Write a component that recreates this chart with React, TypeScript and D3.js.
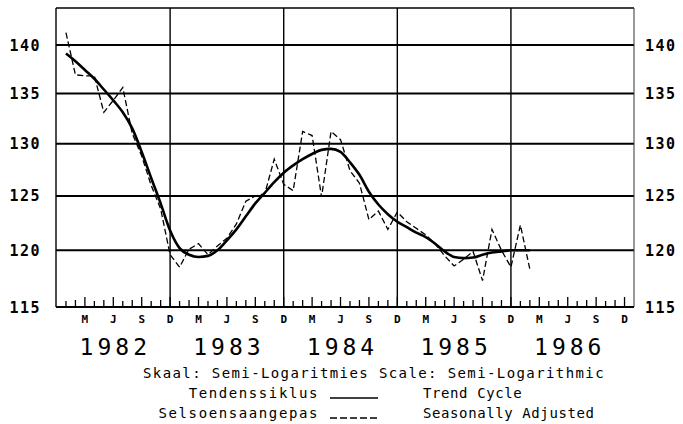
import React, { Component } from 'react'
import * as d3 from 'd3'

// months counted from Dec 1981 (= 0); both series start Jan 1982
const startMonth = 1

const trendCycle = [
    139.1, 138.3, 137.4, 136.5, 135.4, 134.3, 133.1, 131.5, 129.2, 126.7, 124.3, 121.8,
    120.2, 119.6, 119.4, 119.5, 120.0, 120.9, 121.9, 123.1, 124.3, 125.3, 126.3, 127.2,
    127.9, 128.5, 129.0, 129.4, 129.5, 129.2, 128.2, 127.0, 125.4, 124.2, 123.3, 122.6,
    122.1, 121.6, 121.2, 120.6, 119.9, 119.4, 119.3, 119.35, 119.6, 119.8, 119.9, 120.0,
    120.0, 120.0
]

const seasonallyAdjusted = [
    141.3, 136.9, 136.8, 136.8, 133.1, 134.3, 135.6, 131.0, 128.8, 126.0, 123.8, 119.6,
    118.5, 120.1, 120.6, 119.6, 120.4, 121.1, 122.4, 124.5, 125.0, 125.2, 128.5, 126.1,
    125.5, 131.2, 130.8, 124.9, 131.2, 130.4, 127.4, 126.2, 122.8, 123.6, 121.9, 123.5,
    122.6, 122.0, 121.4, 120.6, 119.5, 118.6, 119.2, 119.9, 117.3, 121.9, 120.0, 118.5,
    122.3, 118.3
]

const yTicks = [115, 120, 125, 130, 135, 140]
const monthLetters = ['D', 'M', 'J', 'S']
const years = ['1982', '1983', '1984', '1985', '1986']

const legendLeft = ['Tendenssiklus', 'Selsoensaangepas']
const legendRight = ['Trend Cycle', 'Seasonally Adjusted']
const scaleNote = 'Skaal: Semi-Logaritmies Scale: Semi-Logarithmic'

const FONT = '"DejaVu Sans Mono", "Liberation Mono", monospace'

class App extends Component {
    constructor(props) {
        super(props)
        this.draw = this.draw.bind(this)
    }
    componentDidMount() {
        this.draw()
    }
    draw() {
        let vis = d3.select(this.node)
        vis.selectAll('*').remove()

        let LEFT = 56, RIGHT = 634, TOP = 8, BOTTOM = 307,
            x = d3.scaleLinear().domain([0, 61]).range([56.5, 634]),
            y = d3.scaleLog().domain([115, 140]).range([BOTTOM, 45])

        // horizontal grid
        vis.append('g').selectAll('line')
            .data(yTicks.slice(1))
            .enter().append('line')
            .attr('x1', LEFT).attr('x2', RIGHT)
            .attr('y1', d => y(d)).attr('y2', d => y(d))
            .attr('stroke', '#000').attr('stroke-width', 2)

        // vertical grid at each December
        vis.append('g').selectAll('line')
            .data([12, 24, 36, 48])
            .enter().append('line')
            .attr('x1', d => x(d)).attr('x2', d => x(d))
            .attr('y1', TOP).attr('y2', BOTTOM)
            .attr('stroke', '#000').attr('stroke-width', 1.4)

        // frame
        vis.append('line').attr('x1', LEFT).attr('x2', RIGHT).attr('y1', TOP).attr('y2', TOP)
            .attr('stroke', '#000').attr('stroke-width', 1.6)
        vis.append('line').attr('x1', LEFT).attr('x2', LEFT).attr('y1', TOP).attr('y2', BOTTOM)
            .attr('stroke', '#000').attr('stroke-width', 1.4)
        vis.append('line').attr('x1', RIGHT).attr('x2', RIGHT).attr('y1', TOP).attr('y2', BOTTOM)
            .attr('stroke', '#333').attr('stroke-width', 1)
        vis.append('line').attr('x1', LEFT).attr('x2', RIGHT).attr('y1', BOTTOM).attr('y2', BOTTOM)
            .attr('stroke', '#000').attr('stroke-width', 2.2)

        // monthly ticks
        vis.append('g').selectAll('line')
            .data(d3.range(1, 61))
            .enter().append('line')
            .attr('x1', d => x(d)).attr('x2', d => x(d))
            .attr('y1', BOTTOM)
            .attr('y2', d => BOTTOM - (d % 3 === 0 ? 10 : (d % 3 === 1 ? 6 : 7)))
            .attr('stroke', '#000').attr('stroke-width', 1.3)

        // y labels both sides
        let yl = vis.append('g')
            .style('font-family', FONT).style('font-size', '15px').style('font-weight', 'bold')
        yTicks.forEach(t => {
            yl.append('text').attr('x', 41).attr('y', y(t) + 5.5)
                .attr('text-anchor', 'end').style('letter-spacing', '1.5px').text(t)
            yl.append('text').attr('x', 645).attr('y', y(t) + 5.5)
                .style('letter-spacing', '1.5px').text(t)
        })

        // month letters
        vis.append('g').selectAll('text')
            .data(d3.range(3, 61, 3))
            .enter().append('text')
            .attr('x', d => x(d)).attr('y', 323)
            .attr('text-anchor', 'middle')
            .style('font-family', FONT).style('font-size', '11px').style('font-weight', 'bold')
            .text(d => monthLetters[(d % 12) / 3])

        // year labels
        vis.append('g').selectAll('text')
            .data(years)
            .enter().append('text')
            .attr('x', (d, i) => x(6 + i * 12) + 2).attr('y', 355)
            .attr('text-anchor', 'middle')
            .style('font-family', FONT).style('font-size', '23px')
            .style('letter-spacing', '4px')
            .text(d => d)

        // series
        let trendLine = d3.line()
            .x((d, i) => x(startMonth + i))
            .y(d => y(d))
            .curve(d3.curveMonotoneX)
        let adjLine = d3.line()
            .x((d, i) => x(startMonth + i))
            .y(d => y(d))

        vis.append('path')
            .datum(seasonallyAdjusted)
            .attr('d', adjLine)
            .attr('fill', 'none').attr('stroke', '#000')
            .attr('stroke-width', 1.3).attr('stroke-dasharray', '6,3')

        vis.append('path')
            .datum(trendCycle)
            .attr('d', trendLine)
            .attr('fill', 'none').attr('stroke', '#000')
            .attr('stroke-width', 2.6)

        // notes and legend
        let notes = vis.append('g').style('font-family', FONT).style('font-size', '14px')
        notes.append('text').attr('x', 374).attr('y', 378)
            .attr('text-anchor', 'middle').style('letter-spacing', '1.4px')
            .text(scaleNote)
        legendLeft.forEach((t, i) => {
            notes.append('text').attr('x', 319).attr('y', 398 + i * 20)
                .attr('text-anchor', 'end').style('letter-spacing', '1.6px').text(t)
        })
        legendRight.forEach((t, i) => {
            notes.append('text').attr('x', 423).attr('y', 398 + i * 20)
                .style('letter-spacing', '0.6px').text(t)
        })
        notes.append('line').attr('x1', 330).attr('x2', 378).attr('y1', 398).attr('y2', 398)
            .attr('stroke', '#000').attr('stroke-width', 1.6)
        notes.append('line').attr('x1', 330).attr('x2', 378).attr('y1', 418).attr('y2', 418)
            .attr('stroke', '#000').attr('stroke-width', 1.6).attr('stroke-dasharray', '7,3')
    }
    render() {
        return <svg ref={node => this.node = node}
                    width={683} height={424}
                    style={{ position: 'absolute', left: 0, top: 0, background: '#fff' }}>
        </svg>
    }
}

export default App
